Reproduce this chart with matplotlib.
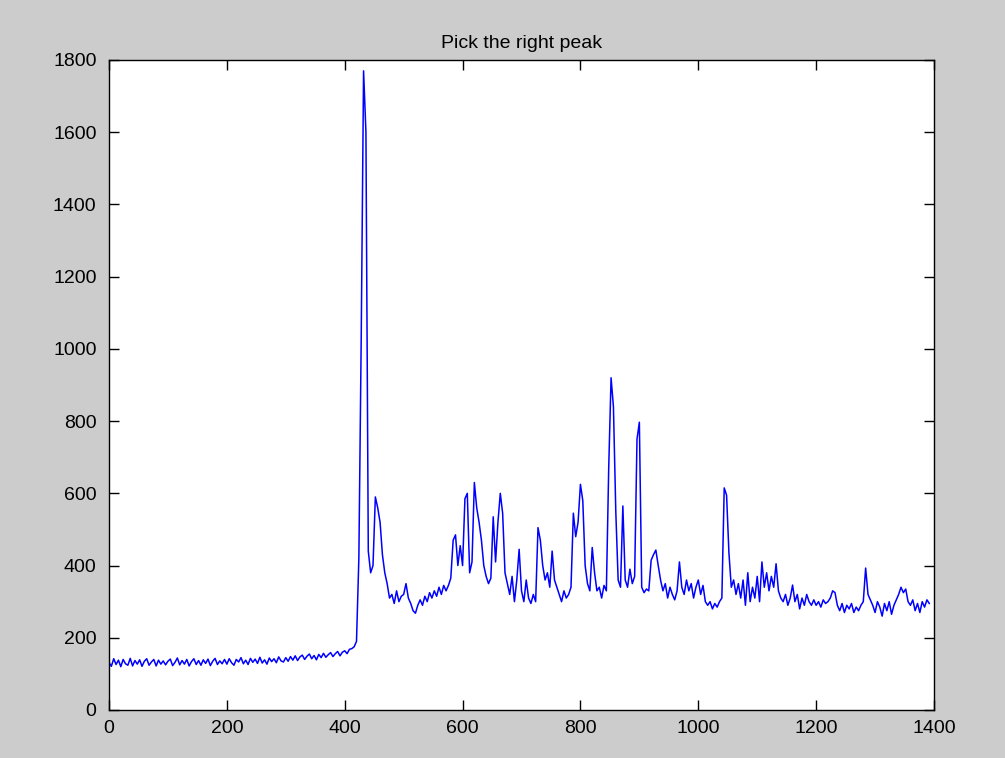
import numpy as np
import matplotlib
matplotlib.use("Agg")
import matplotlib.pyplot as plt

x_step = 4
signal = [
    # 0 - 96
    132,121,142,126,138,120,140,128,124,143,122,137,127,139,121,135,142,124,133,140,122,138,127,136,125,
    # 100 - 196
    135,141,123,132,144,125,137,127,140,122,134,142,126,137,124,139,129,141,123,135,143,126,136,128,140,
    # 200 - 296
    127,142,131,124,140,133,145,128,138,126,143,132,141,129,146,130,139,127,144,134,142,131,147,136,133,
    # 300 - 396
    145,135,148,138,150,137,147,152,140,149,155,142,151,139,154,145,157,146,153,159,148,156,162,150,160,
    # 400 - 496
    164,156,168,170,175,190,420,1030,1770,1600,440,380,400,590,560,520,430,380,350,310,320,295,330,300,315,
    # 500 - 596
    320,350,310,295,275,268,290,305,290,315,300,325,310,330,315,340,320,345,330,345,365,470,485,400,455,
    # 600 - 696
    400,585,600,380,410,630,560,520,470,400,370,350,365,535,410,520,600,545,380,350,320,370,300,360,445,
    # 700 - 796
    330,300,360,310,295,320,300,505,470,400,360,380,340,440,360,340,320,300,330,310,320,340,545,480,520,
    # 800 - 896
    625,580,400,350,330,450,380,330,340,310,345,330,670,920,840,550,360,340,565,360,340,390,350,370,750,
    # 900 - 996
    797,340,325,335,330,415,430,443,400,360,330,350,310,340,320,305,330,410,340,320,360,330,350,310,340,
    # 1000 - 1096
    360,320,345,300,290,300,280,295,285,300,310,615,595,435,340,360,320,350,310,360,290,380,300,340,310,
    # 1100 - 1196
    370,300,410,340,380,330,370,340,405,330,310,300,320,290,310,346,300,320,280,310,290,320,300,290,305,
    # 1200 - 1296
    290,300,285,305,295,300,310,330,325,290,275,295,270,290,280,295,270,285,275,290,300,393,320,305,290,
    # 1300 - 1392
    270,300,285,260,295,275,300,265,290,305,320,340,325,335,300,290,305,275,295,270,300,285,305,295,
]
x_values = np.arange(len(signal)) * x_step

title_text = "Pick the right peak"
x_ticks = [0, 200, 400, 600, 800, 1000, 1200, 1400]
y_ticks = [0, 200, 400, 600, 800, 1000, 1200, 1400, 1600, 1800]

# ---- figure ----
plt.rcParams['font.family'] = ['Liberation Sans', 'DejaVu Sans']
fig = plt.figure(figsize=(10.05, 7.58), dpi=100, facecolor='#cccccc')
ax = fig.add_axes([109/1005, 48/758, 825/1005, 650/758])
ax.set_facecolor('white')

ax.plot(x_values, signal, color='#0000ff', linewidth=1.1)

ax.set_xlim(0, 1400)
ax.set_ylim(0, 1800)
ax.set_xticks(x_ticks)
ax.set_yticks(y_ticks)
ax.set_xticklabels([str(v) for v in x_ticks])
ax.set_yticklabels([str(v) for v in y_ticks])
ax.tick_params(direction='in', length=7, width=1, top=True, right=True,
               labelsize=14, colors='black')
ax.tick_params(axis='y', pad=9)
ax.tick_params(axis='x', pad=7)
for s in ax.spines.values():
    s.set_linewidth(1)
    s.set_color('black')

ax.set_title(title_text, fontsize=14, pad=9)

fig.savefig("out.png", dpi=100, facecolor=fig.get_facecolor())
